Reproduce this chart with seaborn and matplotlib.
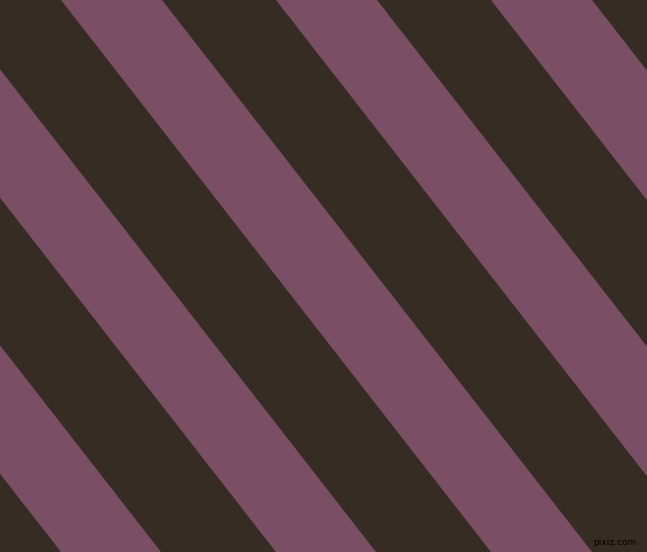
import matplotlib
matplotlib.use("Agg")
import matplotlib.pyplot as plt
import seaborn as sns

# image size in pixels
width_px = 647
height_px = 552

# left / right edge of each purple stripe along the top edge (y = 0)
purple_left_top = [-584, -369, -154, 61, 276, 491]
purple_right_top = [-484, -269, -54, 162, 377, 592]
# horizontal drift of each edge from top to bottom
drift_px = 430

dark_color = "#372c24"
purple_color = "#7a4f63"

sns.set_style("white")
fig = plt.figure(figsize=(6.47, 5.52), dpi=100)
ax = fig.add_axes([0, 0, 1, 1])
ax.set_facecolor(dark_color)

for left, right in zip(purple_left_top, purple_right_top):
    xs = [left, right, right + drift_px, left + drift_px]
    ys = [0, 0, height_px, height_px]
    ax.fill(xs, ys, color=purple_color, linewidth=0)

ax.text(636, 547, "pixiz.com", fontsize=6.5, color="black",
        ha="right", va="bottom", family="DejaVu Sans")

ax.set_xlim(0, width_px)
ax.set_ylim(height_px, 0)
ax.axis("off")
fig.patch.set_facecolor(dark_color)

fig.savefig("out.png", dpi=100, facecolor=dark_color)
